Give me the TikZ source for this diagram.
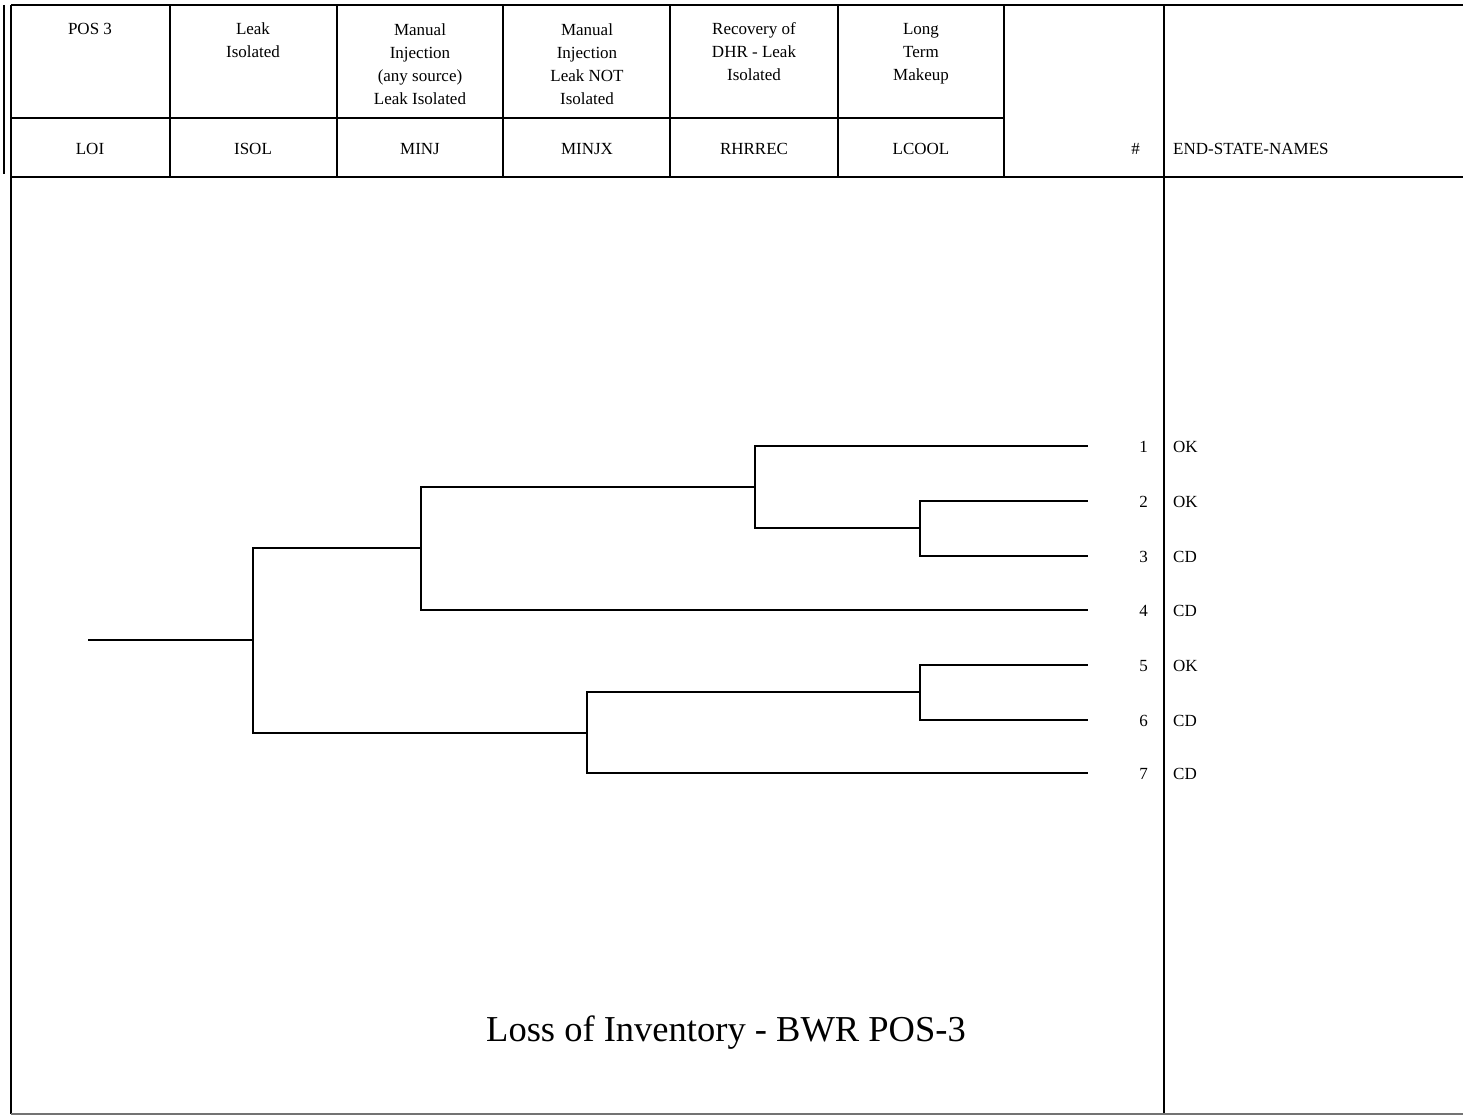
\documentclass[tikz,border=0pt]{standalone}
\usepackage{fontspec}
\setmainfont{Liberation Serif}
\begin{document}
\begin{tikzpicture}[x=1pt,y=-1pt,
  rule/.style={line width=1.6pt,black},
  faint/.style={line width=1.2pt,black!55},
  branch/.style={line width=1.6pt,black},
  htext/.style={font=\fontsize{17}{23}\selectfont,align=center,anchor=base,inner sep=0pt},
  ctext/.style={font=\fontsize{17}{23}\selectfont,anchor=base,inner sep=0pt},
  numtext/.style={font=\fontsize{17}{23}\selectfont,anchor=base east,inner sep=0pt},
  endtext/.style={font=\fontsize{17}{23}\selectfont,anchor=base west,inner sep=0pt},
  titletext/.style={font=\fontsize{36.5}{40}\selectfont,anchor=base,inner sep=0pt}]
\useasboundingbox (0,0) rectangle (1463,1116);
% frame and grid
\draw[rule] (11,5) -- (1463,5);
\draw[rule] (4,5) -- (4,174);
\draw[rule] (11,5) -- (11,1114);
\draw[rule] (11,118) -- (1004,118);
\draw[rule] (11,177) -- (1463,177);
\foreach \cx in {170,337,503,670,838,1004}{\draw[rule] (\cx,5) -- (\cx,177);}
\draw[rule] (1164,5) -- (1164,1114);
\draw[faint] (11,1114) -- (1463,1114);
% header texts (anchor base = baseline of the last line)
\node[htext] (h1) at (90,35) {POS 3};
\node[htext] (h2) at (253,58) {Leak\\Isolated};
\node[htext] (h3) at (420,104) {Manual\\Injection\\(any source)\\Leak Isolated};
\node[htext] (h4) at (587,104) {Manual\\Injection\\Leak NOT\\Isolated};
\node[htext] (h5) at (754,81) {Recovery of\\DHR - Leak\\Isolated};
\node[htext] (h6) at (921,81) {Long\\Term\\Makeup};
\node[ctext] (c1) at (90,154) {LOI};
\node[ctext] (c2) at (253,154) {ISOL};
\node[ctext] (c3) at (420,154) {MINJ};
\node[ctext] (c4) at (587,154) {MINJX};
\node[ctext] (c5) at (754,154) {RHRREC};
\node[ctext] (c6) at (921,154) {LCOOL};
\node[numtext] (hnum) at (1140,154) {\#};
\node[endtext] (hend) at (1173,154) {END-STATE-NAMES};
% tree junctions
\coordinate (root) at (88,640);
\coordinate (A) at (253,640);
\coordinate (B) at (421,548);
\coordinate (C) at (587,733);
\coordinate (D) at (755,487);
\coordinate (E) at (920,528);
\coordinate (F) at (920,692);
\coordinate (t1) at (1088,446);
\coordinate (t2) at (1088,501);
\coordinate (t3) at (1088,556);
\coordinate (t4) at (1088,610);
\coordinate (t5) at (1088,665);
\coordinate (t6) at (1088,720);
\coordinate (t7) at (1088,773);
\draw[branch] (root) -- (A);
\draw[branch] (A) |- (B);
\draw[branch] (A) |- (C);
\draw[branch] (B) |- (D);
\draw[branch] (B) |- (t4);
\draw[branch] (D) |- (t1);
\draw[branch] (D) |- (E);
\draw[branch] (E) |- (t2);
\draw[branch] (E) |- (t3);
\draw[branch] (C) |- (F);
\draw[branch] (C) |- (t7);
\draw[branch] (F) |- (t5);
\draw[branch] (F) |- (t6);
% end states
\foreach \i/\yy/\st in {1/446/OK,2/501/OK,3/556/CD,4/610/CD,5/665/OK,6/720/CD,7/773/CD}{
  \node[numtext] (n\i) at (1148,\yy+6) {\i};
  \node[endtext] (e\i) at (1173,\yy+6) {\st};
}
\node[titletext] (title) at (726,1041) {Loss of Inventory - BWR POS-3};
\end{tikzpicture}
\end{document}
